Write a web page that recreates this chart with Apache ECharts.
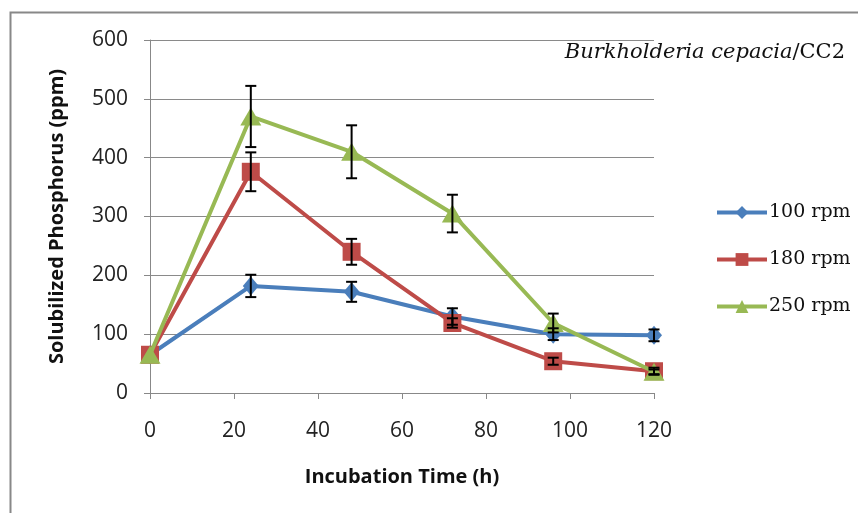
<!DOCTYPE html>
<html>
<head>
<meta charset="utf-8">
<script src="https://cdn.jsdelivr.net/npm/echarts@6/dist/echarts.min.js"></script>
<style>
  html, body { margin: 0; padding: 0; background: #fff; }
  #chart { width: 858px; height: 513px; }
</style>
</head>
<body>
<div id="chart"></div>
<script>
  // incubation time (h)
  var hours = [0, 24, 48, 72, 96, 120];
  // solubilized phosphorus (ppm) per shaking speed
  var rpm100 = [65, 182, 172, 130, 100, 98];
  var rpm100Err = [0, 19, 17, 14, 10, 10];
  var rpm180 = [65, 376, 240, 119, 54, 37];
  var rpm180Err = [0, 33, 22, 8, 6, 6];
  var rpm250 = [65, 470, 410, 305, 119, 36];
  var rpm250Err = [0, 52, 45, 32, 16, 4];
  var seriesNames = ['100 rpm', '180 rpm', '250 rpm'];
  var colors = ['#4A7EBB', '#BE4B48', '#98B954'];

  function pairs(vals) {
    var out = [];
    for (var i = 0; i < hours.length; i++) out.push([hours[i], vals[i]]);
    return out;
  }
  function errRows(vals, errs) {
    var out = [];
    for (var i = 0; i < hours.length; i++) {
      if (errs[i] > 0) out.push([hours[i], vals[i] - errs[i], vals[i] + errs[i]]);
    }
    return out;
  }

  // 误差线
  function renderErr(params, api) {
    var lo = api.coord([api.value(0), api.value(1)]);
    var hi = api.coord([api.value(0), api.value(2)]);
    var w = 5.5;
    var st = { stroke: '#000', lineWidth: 2 };
    return {
      type: 'group',
      children: [
        { type: 'line', shape: { x1: hi[0], y1: hi[1], x2: lo[0], y2: lo[1] }, style: st },
        { type: 'line', shape: { x1: hi[0] - w, y1: hi[1], x2: hi[0] + w, y2: hi[1] }, style: st },
        { type: 'line', shape: { x1: lo[0] - w, y1: lo[1], x2: lo[0] + w, y2: lo[1] }, style: st }
      ]
    };
  }

  var allVals = [rpm100, rpm180, rpm250];
  var allErrs = [rpm100Err, rpm180Err, rpm250Err];
  var symbols = ['diamond', 'rect', 'triangle'];
  var symSizes = [[16, 19], 18, [21, 18]];
  var series = [];
  for (var k = 0; k < 3; k++) {
    series.push({
      name: seriesNames[k],
      type: 'line',
      data: pairs(allVals[k]),
      symbol: symbols[k],
      symbolSize: symSizes[k],
      showAllSymbol: true,
      lineStyle: { color: colors[k], width: 4 },
      itemStyle: { color: colors[k] },
      animation: false,
      z: 2 + k
    });
  }
  for (var k = 0; k < 3; k++) {
    series.push({
      type: 'custom',
      name: 'err' + k,
      data: errRows(allVals[k], allErrs[k]),
      renderItem: renderErr,
      encode: { x: 0, y: [1, 2] },
      z: 10,
      silent: true,
      animation: false
    });
  }

  var chart = echarts.init(document.getElementById('chart'));
  chart.setOption({
    animation: false,
    graphic: [
      {
        type: 'polyline',
        shape: { points: [[10.5, 513], [10.5, 12.5], [858, 12.5]] },
        style: { stroke: '#888', lineWidth: 2, fill: null }
      },
      {
        type: 'text',
        right: 13,
        top: 42,
        style: {
          text: '{i|Burkholderia cepacia}{n|/CC2}',
          rich: {
            i: { fontFamily: 'DejaVu Serif', fontStyle: 'italic', fontSize: 21, fill: '#111' },
            n: { fontFamily: 'DejaVu Serif', fontSize: 21, fill: '#111' }
          }
        }
      }
    ],
    grid: { left: 150, top: 40, width: 504, height: 353 },
    legend: {
      data: seriesNames,
      orient: 'vertical',
      left: 710,
      top: 198,
      itemWidth: 50,
      itemHeight: 16,
      itemGap: 28,
      lineStyle: { width: 4 },
      textStyle: { fontFamily: 'DejaVu Serif', fontSize: 19, color: '#111', padding: [0, 0, 0, -3] }
    },
    xAxis: {
      type: 'value',
      min: 0,
      max: 120,
      interval: 20,
      name: 'Incubation Time (h)',
      nameLocation: 'middle',
      nameGap: 74,
      nameTextStyle: { fontFamily: 'Open Sans', fontWeight: 'bold', fontSize: 20, color: '#111' },
      axisLine: { lineStyle: { color: '#888', width: 1 } },
      axisTick: { show: true, length: 6, lineStyle: { color: '#888' } },
      axisLabel: { margin: 28, fontFamily: 'Open Sans', fontSize: 21, color: '#222' },
      splitLine: { show: false }
    },
    yAxis: {
      type: 'value',
      min: 0,
      max: 600,
      interval: 100,
      name: 'Solubilized Phosphorus (ppm)',
      nameLocation: 'middle',
      nameGap: 83,
      nameTextStyle: { fontFamily: 'Open Sans', fontWeight: 'bold', fontSize: 20, color: '#111' },
      axisLine: { show: true, lineStyle: { color: '#888', width: 1 } },
      axisTick: { show: true, length: 6, lineStyle: { color: '#888' } },
      axisLabel: { margin: 22, fontFamily: 'Open Sans', fontSize: 21, color: '#222' },
      splitLine: { lineStyle: { color: '#8a8a8a', width: 1 } }
    },
    series: series
  });
</script>
</body>
</html>
